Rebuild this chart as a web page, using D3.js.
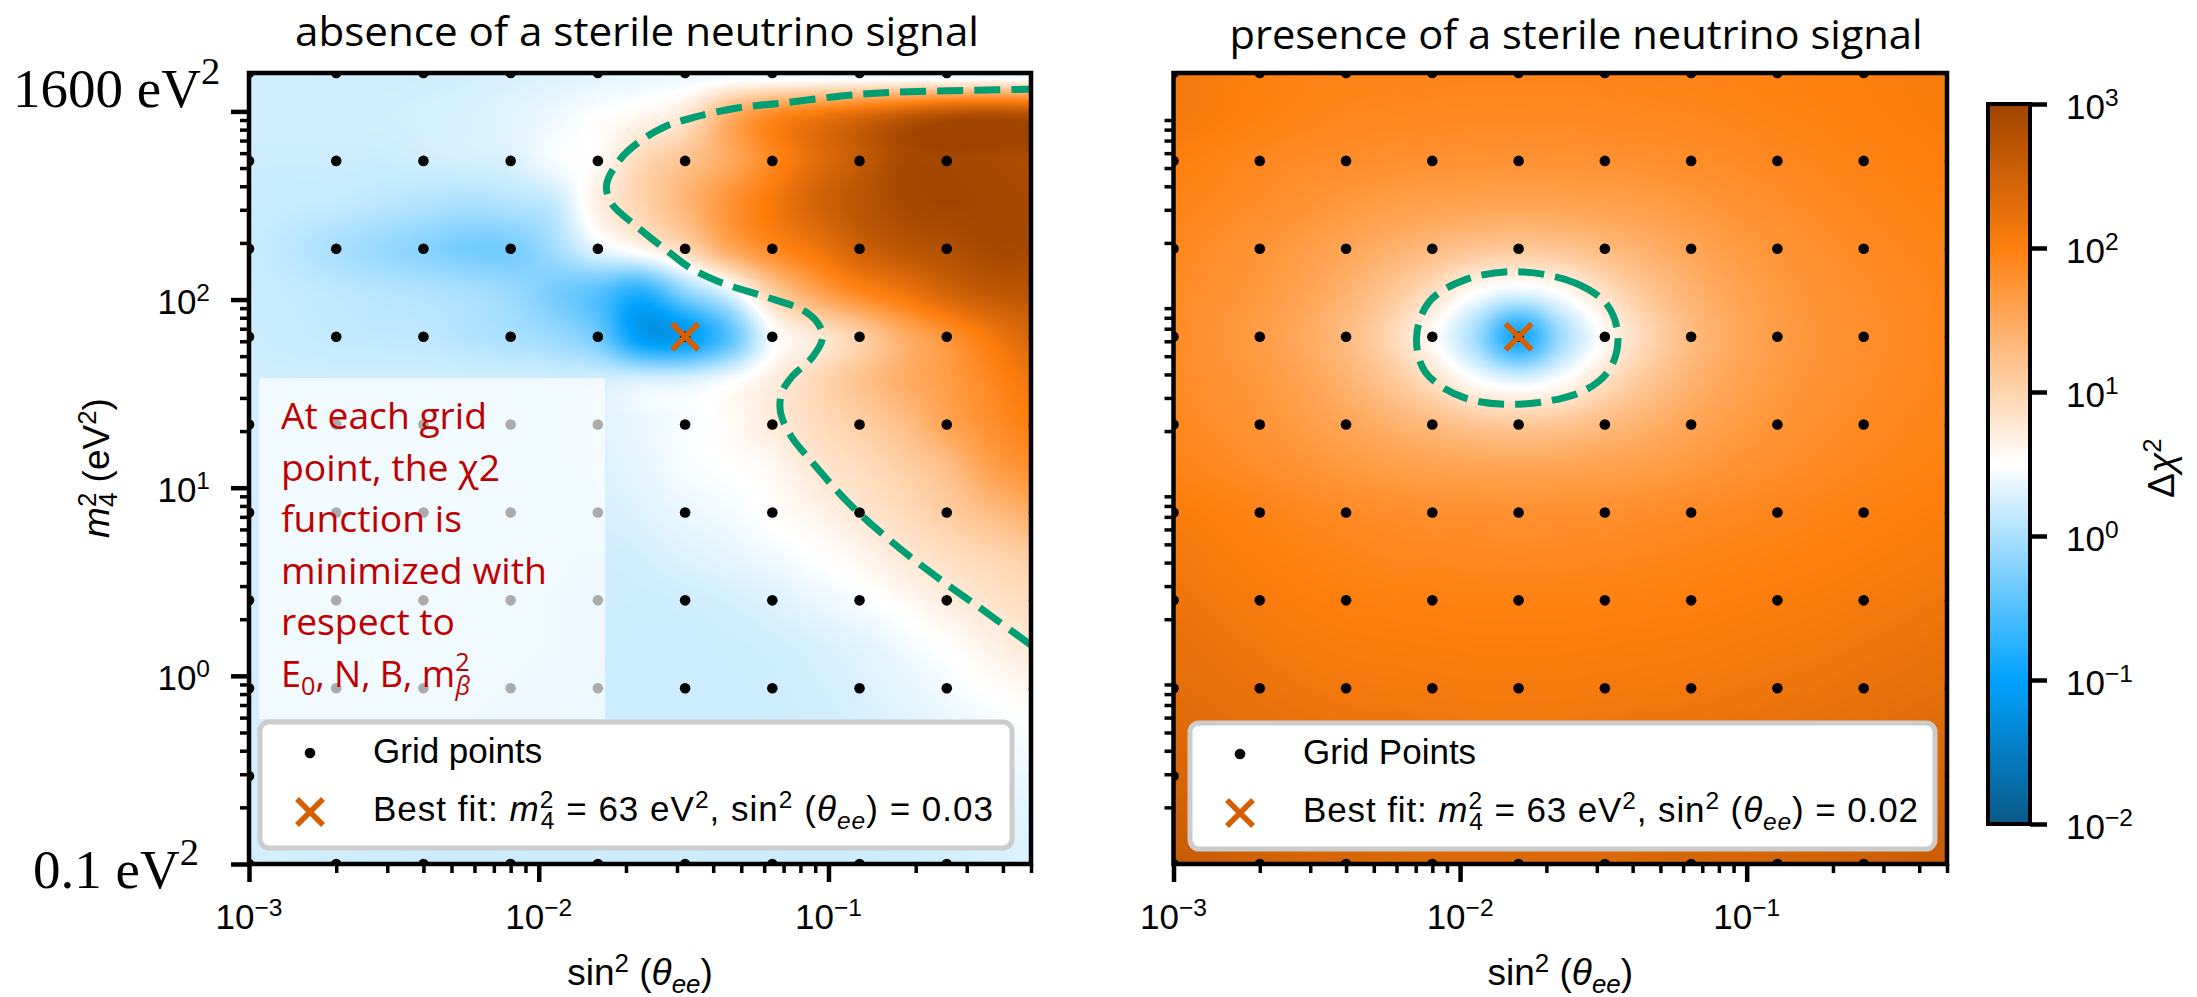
<!DOCTYPE html>
<html>
<head>
<meta charset="utf-8">
<script src="https://cdn.jsdelivr.net/npm/d3@7"></script>
<style>
  body { margin: 0; background: #fff; }
  text { white-space: pre; font-family: "Liberation Sans", Arial, sans-serif; }
</style>
</head>
<body>
<svg id="chartSVG" width="2197" height="997"></svg>
<script>
// ---- data ----
// scan grid points
var gridSin = [0.001, 0.002, 0.004, 0.008, 0.016, 0.032, 0.064, 0.128, 0.256, 0.512];
var gridM = [0.1, 0.2932, 0.8595, 2.520, 7.388, 21.66, 63.48, 186.2, 545.8, 1600];

// nodes of the two maps; values are log10(Δχ²), rows go from m² = 1600 (top) down to 0.1
var fieldSin = [0.001, 0.001414, 0.002, 0.002828, 0.004, 0.005657, 0.008, 0.01131, 0.016, 0.02263,
                0.032, 0.04525, 0.064, 0.09051, 0.128, 0.181, 0.256, 0.362, 0.512];
var fieldM = [1600, 934.4, 545.8, 318.7, 186.2, 108.7, 63.48, 37.09, 21.66, 12.65,
              7.388, 4.315, 2.520, 1.472, 0.8595, 0.5021, 0.2932, 0.1713, 0.1];

var chiAbsence = [
  [0.22,0.22,0.22,0.22,0.23,0.24,0.26,0.30,0.33,0.35,0.36,0.35,0.33,0.30,0.28,0.26,0.25,0.25,0.25],
  [0.24,0.24,0.24,0.24,0.25,0.27,0.32,0.40,0.50,0.60,0.80,1.45,1.90,2.15,2.40,2.65,2.85,2.90,2.85],
  [0.20,0.20,0.20,0.20,0.22,0.25,0.28,0.45,0.55,0.95,1.20,1.50,1.90,2.30,2.60,2.90,2.95,2.90,2.85],
  [0.20,0.17,0.15,0.10,0.05,0.00,0.05,0.15,0.68,1.00,1.35,1.75,2.10,2.45,2.70,2.90,2.97,2.95,2.90],
  [0.18,0.10,0.00,-0.10,-0.20,-0.30,-0.30,-0.05,0.35,0.60,0.95,1.50,1.88,2.15,2.50,2.70,2.80,2.92,2.90],
  [0.20,0.16,0.12,0.08,0.05,0.00,-0.10,-0.30,-0.50,-0.80,-0.20,0.30,1.05,1.55,1.90,2.15,2.45,2.65,2.70],
  [0.20,0.18,0.15,0.13,0.12,0.06,0.00,-0.10,-0.35,-1.10,-1.10,-0.50,0.45,0.75,1.05,1.45,1.75,2.10,2.40],
  [0.22,0.22,0.22,0.22,0.22,0.22,0.22,0.22,0.24,0.28,0.30,0.45,0.70,0.95,1.20,1.45,1.65,1.90,2.15],
  [0.24,0.24,0.24,0.24,0.24,0.24,0.24,0.25,0.30,0.38,0.45,0.55,0.72,0.90,1.05,1.25,1.55,1.80,2.00],
  [0.24,0.24,0.24,0.24,0.24,0.24,0.24,0.25,0.28,0.35,0.45,0.50,0.58,0.78,0.90,1.05,1.25,1.60,1.80],
  [0.24,0.24,0.24,0.24,0.24,0.24,0.24,0.24,0.25,0.30,0.38,0.43,0.52,0.63,0.78,0.92,1.08,1.28,1.45],
  [0.24,0.24,0.24,0.24,0.24,0.24,0.24,0.23,0.22,0.24,0.30,0.35,0.42,0.50,0.60,0.76,0.88,0.98,1.08],
  [0.24,0.24,0.24,0.24,0.24,0.24,0.23,0.22,0.21,0.21,0.22,0.25,0.30,0.38,0.46,0.56,0.70,0.82,0.90],
  [0.24,0.24,0.24,0.24,0.24,0.24,0.23,0.22,0.21,0.20,0.20,0.21,0.23,0.27,0.33,0.42,0.52,0.65,0.76],
  [0.24,0.24,0.24,0.24,0.24,0.23,0.22,0.21,0.20,0.20,0.20,0.20,0.21,0.24,0.28,0.35,0.43,0.52,0.60],
  [0.24,0.24,0.24,0.24,0.23,0.22,0.21,0.20,0.20,0.20,0.20,0.20,0.20,0.22,0.25,0.30,0.36,0.42,0.48],
  [0.24,0.24,0.24,0.23,0.22,0.21,0.20,0.20,0.20,0.20,0.20,0.20,0.20,0.21,0.23,0.26,0.30,0.35,0.40],
  [0.24,0.24,0.23,0.22,0.21,0.20,0.20,0.20,0.20,0.20,0.20,0.20,0.20,0.20,0.21,0.23,0.26,0.29,0.33],
  [0.24,0.23,0.22,0.21,0.20,0.20,0.20,0.20,0.20,0.20,0.20,0.20,0.20,0.20,0.20,0.21,0.23,0.26,0.29]
];

var chiPresence = [
  [2.12,2.06,2.00,1.96,1.94,1.93,1.93,1.93,1.93,1.93,1.93,1.94,1.95,1.96,1.98,2.00,2.02,2.05,2.08],
  [2.10,2.04,1.98,1.94,1.91,1.90,1.89,1.88,1.88,1.88,1.89,1.90,1.91,1.93,1.95,1.97,2.00,2.03,2.06],
  [2.00,1.95,1.90,1.86,1.83,1.80,1.78,1.77,1.76,1.77,1.78,1.80,1.83,1.86,1.90,1.93,1.96,1.99,2.02],
  [1.95,1.90,1.84,1.77,1.70,1.64,1.60,1.57,1.56,1.57,1.60,1.64,1.70,1.77,1.83,1.88,1.92,1.95,1.98],
  [1.90,1.83,1.75,1.66,1.55,1.43,1.30,1.18,1.13,1.18,1.30,1.43,1.55,1.66,1.75,1.82,1.88,1.92,1.95],
  [1.87,1.78,1.70,1.58,1.40,1.17,0.87,0.51,0.33,0.51,0.87,1.17,1.40,1.56,1.68,1.77,1.84,1.89,1.93],
  [1.85,1.75,1.65,1.50,1.30,0.98,0.55,-0.05,-0.90,-0.05,0.55,0.98,1.30,1.50,1.65,1.75,1.82,1.88,1.92],
  [1.87,1.78,1.70,1.58,1.40,1.17,0.87,0.51,0.33,0.51,0.87,1.17,1.40,1.56,1.68,1.77,1.84,1.89,1.93],
  [1.90,1.83,1.75,1.66,1.55,1.43,1.30,1.18,1.13,1.18,1.30,1.43,1.55,1.66,1.75,1.82,1.88,1.92,1.95],
  [1.95,1.90,1.84,1.77,1.70,1.64,1.60,1.57,1.56,1.57,1.60,1.64,1.70,1.77,1.83,1.88,1.92,1.95,1.98],
  [2.05,2.00,1.95,1.90,1.86,1.83,1.80,1.79,1.78,1.79,1.80,1.83,1.86,1.89,1.92,1.95,1.98,2.01,2.04],
  [2.12,2.06,2.01,1.97,1.94,1.91,1.90,1.89,1.88,1.89,1.90,1.92,1.94,1.96,1.98,2.00,2.03,2.06,2.09],
  [2.17,2.12,2.07,2.03,2.00,1.99,1.98,1.97,1.97,1.97,1.98,1.99,2.00,2.02,2.04,2.06,2.09,2.12,2.15],
  [2.23,2.18,2.13,2.09,2.06,2.05,2.04,2.03,2.03,2.03,2.04,2.05,2.06,2.08,2.10,2.12,2.15,2.18,2.21],
  [2.29,2.24,2.19,2.15,2.12,2.11,2.10,2.09,2.09,2.09,2.10,2.11,2.12,2.14,2.16,2.18,2.21,2.24,2.27],
  [2.36,2.31,2.26,2.22,2.19,2.18,2.17,2.16,2.16,2.16,2.17,2.18,2.19,2.21,2.23,2.25,2.28,2.31,2.34],
  [2.43,2.38,2.33,2.29,2.26,2.25,2.24,2.23,2.23,2.23,2.24,2.25,2.26,2.28,2.30,2.32,2.35,2.38,2.41],
  [2.51,2.46,2.41,2.37,2.34,2.32,2.31,2.30,2.30,2.30,2.31,2.32,2.34,2.36,2.38,2.40,2.43,2.46,2.49],
  [2.60,2.54,2.49,2.45,2.42,2.40,2.38,2.37,2.37,2.37,2.38,2.40,2.42,2.44,2.46,2.48,2.51,2.54,2.57]
];

// dashed exclusion contours
var contourAbsenceSin = [0.525, 0.484, 0.328, 0.1706, 0.1175, 0.0689, 0.0478, 0.0345, 0.0270, 0.0219,
  0.0190, 0.01714, 0.01782, 0.0219, 0.0281, 0.0329, 0.0421, 0.0611, 0.0815, 0.0918, 0.0955, 0.0881,
  0.0746, 0.0689, 0.0684, 0.0746, 0.0867, 0.1175, 0.1626, 0.2366, 0.341, 0.484, 0.525];
var contourAbsenceM = [1315, 1312, 1297, 1265, 1219, 1107, 1040, 931, 824, 678,
  551, 406, 325, 243, 179, 149, 124, 103, 87.9, 75.0, 63.1, 49.4,
  38.7, 31.8, 24.9, 18.6, 14.0, 8.28, 5.27, 3.35, 2.24, 1.51, 1.38];
var contourPresenceSin = [0.01592, 0.02535, 0.03266, 0.03556, 0.03327, 0.02685, 0.01618, 0.01033,
  0.00757, 0.00705, 0.00778, 0.01033];
var contourPresenceM = [140.6, 122.2, 93.3, 63.1, 42.7, 32.6, 27.8, 30.1, 41.1, 63.1, 96.8, 126.8];

// best fits (grid points)
var bestFitSin = [0.032, 0.016];
var bestFitM = [63.48, 63.48];

var titles = ["absence of a sterile neutrino signal", "presence of a sterile neutrino signal"];
var gridLabels = ["Grid points", "Grid Points"];
var noteLines = ["At each grid", "point, the \u03c72", "function is", "minimized with", "respect to"];

// colour map (log10 Δχ² -> colour) and colour bar ticks
var colourStops = [-2, -1, 0.5, 2, 3];
var colourHex = ["#0a5887", "#00a2ff", "#ffffff", "#ff7f0e", "#9e4400"];
var cbarTicks = [0.01, 0.1, 1, 10, 100, 1000];

// ---- drawing ----
var svg = d3.select("#chartSVG");
var defs = svg.append("defs");

var colourScale = d3.scaleLinear().domain(colourStops).range(colourHex).clamp(true);
var lut = d3.range(1201).map(function (k) { return d3.rgb(colourScale(-2.5 + k * 0.005)); });
var colourOf = function (v) {
  var k = Math.round((v + 2.5) / 0.005);
  return lut[Math.max(0, Math.min(1200, k))];
};

var catmull = function (p0, p1, p2, p3, t) {
  return p1 + 0.5 * t * (p2 - p0 + t * (2 * p0 - 5 * p1 + 4 * p2 - p3 + t * (3 * (p1 - p2) + p3 - p0)));
};
var sampleField = function (rows, r, c) {
  var nr = rows.length, nc = rows[0].length;
  var r0 = Math.floor(r), c0 = Math.floor(c);
  var cl = function (v, n) { return Math.max(0, Math.min(n - 1, v)); };
  var col = [];
  for (var k = -1; k <= 2; k++) {
    var row = rows[cl(r0 + k, nr)];
    col.push(catmull(row[cl(c0 - 1, nc)], row[cl(c0, nc)], row[cl(c0 + 1, nc)], row[cl(c0 + 2, nc)], c - c0));
  }
  return catmull(col[0], col[1], col[2], col[3], r - r0);
};

/**
 * rich text with italic, superscript and subscript pieces
 */
var richText = function (parent, parts, size, raise) {
  raise = raise || 0.36;
  var text = parent.append("text").style("font-size", size + "px");
  var shift = 0, lastSup = null;
  parts.forEach(function (p) {
    var target = p.sup ? -raise * size : (p.sub ? 0.22 * size : 0);
    var ts = text.append("tspan").text(p.t).attr("dy", target - shift);
    if (p.sup || p.sub) ts.style("font-size", (0.7 * size) + "px");
    if (p.it) ts.style("font-style", "italic");
    if (p.stack && lastSup) ts.attr("dx", -lastSup.node().getComputedTextLength());
    shift = target;
    lastSup = p.sup ? ts : null;
  });
  return text;
};
var powerLabel = function (v) {
  var e = Math.round(Math.log10(v));
  return [{t: "10"}, {t: (e < 0 ? "\u2212" : "") + Math.abs(e), sup: true}];
};

var drawCross = function (parent, cx, cy) {
  parent.append("path")
    .attr("d", "M" + (cx - 13) + "," + (cy - 13) + "L" + (cx + 13) + "," + (cy + 13) +
               "M" + (cx - 13) + "," + (cy + 13) + "L" + (cx + 13) + "," + (cy - 13))
    .attr("stroke", "#d55e00").attr("stroke-width", 5.5).attr("fill", "none");
};

var isDecade = function (v) { return Math.abs(Math.log10(v) - Math.round(Math.log10(v))) < 1e-6; };

var drawPanel = function (p) {
  var x = d3.scaleLog().domain([0.001, 0.5]).range([p.left, p.right]);
  var y = d3.scaleLog().domain([0.1, 1600]).range([p.bottom, p.top]);
  var colIdx = d3.scaleLog().domain([fieldSin[0], fieldSin[fieldSin.length - 1]]).range([0, fieldSin.length - 1]);
  var rowIdx = d3.scaleLog().domain([fieldM[0], fieldM[fieldM.length - 1]]).range([0, fieldM.length - 1]);

  defs.append("clipPath").attr("id", "clip" + p.id).append("rect")
    .attr("x", p.left).attr("y", p.top).attr("width", p.right - p.left).attr("height", p.bottom - p.top);
  var plot = svg.append("g").attr("clip-path", "url(#clip" + p.id + ")");

  // heat map
  var x0 = Math.floor(p.left), y0 = Math.floor(p.top);
  var w = Math.ceil(p.right) - x0, h = Math.ceil(p.bottom) - y0;
  var canvas = document.createElement("canvas");
  canvas.width = w; canvas.height = h;
  var ctx = canvas.getContext("2d");
  var img = ctx.createImageData(w, h);
  var cols = d3.range(w).map(function (i) { return colIdx(x.invert(x0 + i + 0.5)); });
  for (var j = 0; j < h; j++) {
    var r = rowIdx(y.invert(y0 + j + 0.5));
    for (var i = 0; i < w; i++) {
      var c = colourOf(sampleField(p.rows, r, cols[i]));
      var o = 4 * (j * w + i);
      img.data[o] = c.r; img.data[o + 1] = c.g; img.data[o + 2] = c.b; img.data[o + 3] = 255;
    }
  }
  ctx.putImageData(img, 0, 0);
  plot.append("image").attr("x", x0).attr("y", y0).attr("width", w).attr("height", h)
    .attr("preserveAspectRatio", "none").attr("href", canvas.toDataURL());

  // grid points
  var pts = [];
  gridSin.forEach(function (s) { gridM.forEach(function (m) { pts.push([s, m]); }); });
  plot.selectAll(null).data(pts).enter().append("circle")
    .attr("cx", function (d) { return x(d[0]); })
    .attr("cy", function (d) { return y(d[1]); })
    .attr("r", 5.3).attr("fill", "#000");

  if (p.note) {
    plot.append("rect").attr("x", 259).attr("y", 378).attr("width", 346).attr("height", 341)
      .attr("fill", "#fff").attr("fill-opacity", 0.67);
    var noteWidths = [206, 219, 181, 266, 174];
    noteLines.forEach(function (t, k) {
      plot.append("text").attr("x", 281).attr("y", 429 + 51.6 * k)
        .style("font-family", "'Open Sans'").style("font-size", "36px").attr("fill", "#c00000")
        .attr("textLength", noteWidths[k]).attr("lengthAdjust", "spacingAndGlyphs").text(t);
    });
    richText(plot, [{t: "E"}, {t: "0", sub: true}, {t: ", N, B, m"}, {t: "2", sup: true},
                    {t: "\u03b2", sub: true, it: true, stack: true}], 36, 0.45)
      .attr("x", 281).attr("y", 429 + 51.6 * 5)
      .style("font-family", "'Open Sans'").attr("fill", "#c00000");
  }

  // contour
  var line = d3.line().x(function (d) { return x(d[0]); }).y(function (d) { return y(d[1]); })
    .curve(p.closed ? d3.curveCatmullRomClosed : d3.curveCatmullRom);
  plot.append("path").datum(d3.zip(p.contourSin, p.contourM))
    .attr("d", line).attr("fill", "none").attr("stroke", "#009e73")
    .attr("stroke-width", 7).attr("stroke-dasharray", "26,11");

  drawCross(plot, x(p.bestSin), y(p.bestM));

  // axes
  var xMinor = x.ticks().filter(function (v) { return !isDecade(v); });
  var yMinor = y.ticks().filter(function (v) { return !isDecade(v); });
  var styleAxis = function (sel, sw) {
    sel.select(".domain").remove();
    sel.selectAll(".tick line").attr("stroke", "#000").attr("stroke-width", sw);
  };
  svg.append("g").attr("transform", "translate(0," + p.bottom + ")")
    .call(d3.axisBottom(x).tickValues([0.001, 0.01, 0.1]).tickSize(18).tickFormat(""))
    .call(styleAxis, 4.5);
  svg.append("g").attr("transform", "translate(0," + p.bottom + ")")
    .call(d3.axisBottom(x).tickValues(xMinor).tickSize(9).tickFormat(""))
    .call(styleAxis, 3.5);
  if (p.yMajor) {
    svg.append("g").attr("transform", "translate(" + p.left + ",0)")
      .call(d3.axisLeft(y).tickValues([0.1, 1, 10, 100, 1000]).tickSize(18).tickFormat(""))
      .call(styleAxis, 4.5);
  }
  svg.append("g").attr("transform", "translate(" + p.left + ",0)")
    .call(d3.axisLeft(y).tickValues(yMinor).tickSize(9).tickFormat(""))
    .call(styleAxis, 3.5);

  [0.001, 0.01, 0.1].forEach(function (v) {
    richText(svg, powerLabel(v), 35).attr("x", x(v)).attr("y", 929).attr("text-anchor", "middle");
  });
  if (p.yMajor) {
    [1, 10, 100].forEach(function (v) {
      richText(svg, powerLabel(v), 35).attr("x", p.left - 39).attr("y", y(v) + 14).attr("text-anchor", "end");
    });
  }

  svg.append("rect").attr("x", p.left).attr("y", p.top)
    .attr("width", p.right - p.left).attr("height", p.bottom - p.top)
    .attr("fill", "none").attr("stroke", "#000").attr("stroke-width", 4.5);

  // x label
  richText(svg, [{t: "sin"}, {t: "2", sup: true}, {t: " ("}, {t: "\u03b8", it: true},
                 {t: "ee", sub: true, it: true}, {t: ")"}], 37)
    .attr("x", (p.left + p.right) / 2).attr("y", 985).attr("text-anchor", "middle");

  // title
  svg.append("text").attr("x", p.titleX).attr("y", p.titleY).attr("text-anchor", "middle")
    .style("font-family", "'Open Sans'").style("font-size", "40px")
    .attr("textLength", p.titleW).attr("lengthAdjust", "spacingAndGlyphs").text(p.title);

  // legend
  var lg = svg.append("g");
  lg.append("rect").attr("x", p.legX).attr("y", p.legY).attr("width", p.legW).attr("height", 126)
    .attr("rx", 9).attr("fill", "#fff").attr("stroke", "#cccccc").attr("stroke-width", 5);
  lg.append("circle").attr("cx", p.legX + 50).attr("cy", p.legY + 31).attr("r", 5.3).attr("fill", "#000");
  richText(lg, [{t: p.gridLabel}], 35).attr("x", p.legX + 113).attr("y", p.legY + 41);
  drawCross(lg, p.legX + 50, p.legY + 90);
  richText(lg, [{t: "Best fit: "}, {t: "m", it: true}, {t: "2", sup: true}, {t: "4", sub: true, stack: true},
                {t: " = " + d3.format(".0f")(p.bestM) + " eV"}, {t: "2", sup: true}, {t: ", sin"},
                {t: "2", sup: true}, {t: " ("}, {t: "\u03b8", it: true}, {t: "ee", sub: true, it: true},
                {t: ") = " + d3.format(".2f")(p.bestSin)}], 35)
    .attr("x", p.legX + 113).attr("y", p.legY + 99)
    .attr("textLength", p.fitW).attr("lengthAdjust", "spacing");
};

drawPanel({id: 0, left: 249, right: 1031, top: 73, bottom: 864, rows: chiAbsence,
  contourSin: contourAbsenceSin, contourM: contourAbsenceM, closed: false,
  bestSin: bestFitSin[0], bestM: bestFitM[0], note: true, yMajor: true,
  title: titles[0], titleX: 637, titleY: 46, titleW: 684, gridLabel: gridLabels[0],
  legX: 260, legY: 722, legW: 752, fitW: 620});
drawPanel({id: 1, left: 1173.5, right: 1947, top: 73, bottom: 864, rows: chiPresence,
  contourSin: contourPresenceSin, contourM: contourPresenceM, closed: true,
  bestSin: bestFitSin[1], bestM: bestFitM[1], note: false, yMajor: false,
  title: titles[1], titleX: 1576, titleY: 49, titleW: 693, gridLabel: gridLabels[1],
  legX: 1190, legY: 723, legW: 745, fitW: 615});

// left-panel range annotations
richText(svg, [{t: "1600 eV"}, {t: "2", sup: true}], 55, 0.42)
  .attr("x", 13).attr("y", 107).style("font-family", "'Liberation Serif', serif");
richText(svg, [{t: "0.1 eV"}, {t: "2", sup: true}], 55, 0.42)
  .attr("x", 33).attr("y", 888).style("font-family", "'Liberation Serif', serif");

// y label
richText(svg.append("g").attr("transform", "translate(109,468) rotate(-90)"),
  [{t: "m", it: true}, {t: "2", sup: true}, {t: "4", sub: true, stack: true}, {t: " (eV"},
   {t: "2", sup: true}, {t: ")"}], 37).attr("text-anchor", "middle");

// colour bar
var cbar = d3.scaleLog().domain([0.01, 1000]).range([824, 104]);
var grad = defs.append("linearGradient").attr("id", "cbarGrad")
  .attr("x1", "0%").attr("y1", "100%").attr("x2", "0%").attr("y2", "0%");
grad.selectAll("stop").data(colourStops).enter().append("stop")
  .attr("offset", function (d) { return (d + 2) / 5; })
  .attr("stop-color", function (d, i) { return colourHex[i]; });
svg.append("rect").attr("x", 1988).attr("y", 104).attr("width", 42).attr("height", 720)
  .attr("fill", "url(#cbarGrad)").attr("stroke", "#000").attr("stroke-width", 4);
svg.append("g").attr("transform", "translate(2030,0)")
  .call(d3.axisRight(cbar).tickValues(cbarTicks).tickSize(17).tickFormat(""))
  .call(function (sel) {
    sel.select(".domain").remove();
    sel.selectAll(".tick line").attr("stroke", "#000").attr("stroke-width", 4.5);
  });
cbarTicks.forEach(function (v) {
  richText(svg, powerLabel(v), 35).attr("x", 2066).attr("y", cbar(v) + 15);
});
richText(svg.append("g").attr("transform", "translate(2174,468) rotate(-90)"),
  [{t: "\u0394"}, {t: "\u03c7", it: true}, {t: "2", sup: true}], 37).attr("text-anchor", "middle");
</script>
</body>
</html>
